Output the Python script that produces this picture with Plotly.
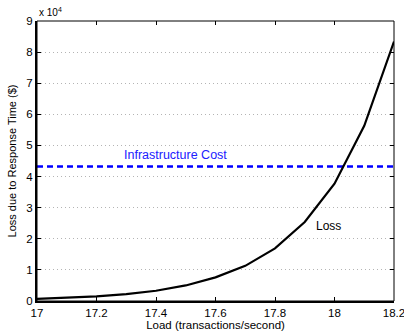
import plotly.graph_objects as go

load = [17.0, 17.1, 17.2, 17.3, 17.4, 17.5, 17.6, 17.7, 17.8, 17.9, 18.0, 18.1, 18.2]
loss = [700, 1000, 1500, 2200, 3300, 5000, 7600, 11300, 16900, 25400, 37700, 56300, 83400]
infra_cost = 43200
x_ticks = [17, 17.2, 17.4, 17.6, 17.8, 18, 18.2]
x_ticklabels = ["17", "17.2", "17.4", "17.6", "17.8", "18", "18.2"]
y_ticks = [0, 10000, 20000, 30000, 40000, 50000, 60000, 70000, 80000, 90000]
y_ticklabels = ["0", "1", "2", "3", "4", "5", "6", "7", "8", "9"]

font = "Liberation Sans, Arial, Helvetica, sans-serif"
XR = [17, 18.2]
YR = [0, 90000]

fig = go.Figure()
fig.add_trace(go.Scatter(x=[load[0], load[-1]], y=[infra_cost, infra_cost], mode="lines",
                         line=dict(color="#0000ff", width=2.5, dash="6px,4px"),
                         showlegend=False, hoverinfo="skip"))
fig.add_trace(go.Scatter(x=load, y=loss, mode="lines",
                         line=dict(color="black", width=2.2),
                         showlegend=False))
fig.add_trace(go.Scatter(x=XR, y=YR, xaxis="x2", yaxis="y2", mode="markers",
                         marker=dict(opacity=0), showlegend=False, hoverinfo="skip"))

fig.add_annotation(x=17.465, y=infra_cost, yshift=12, text="Infrastructure Cost", showarrow=False,
                   font=dict(family=font, size=12.5, color="#2020ff"), xanchor="center", yanchor="middle")
fig.add_annotation(x=17.98, y=24000, text="Loss", showarrow=False,
                   font=dict(family=font, size=12, color="black"), xanchor="center", yanchor="middle")
fig.add_annotation(xref="paper", yref="paper", x=0, y=1, yshift=1, xanchor="left", yanchor="bottom",
                   text="x 10<sup>4</sup>", showarrow=False,
                   font=dict(family=font, size=10, color="black"))

# thin box
fig.add_shape(type="rect", xref="paper", yref="paper", x0=0, y0=0, x1=1, y1=1,
              line=dict(color="black", width=1), layer="above")

fig.update_layout(
    width=404, height=336,
    margin=dict(l=37, r=10, t=21, b=35, autoexpand=False),
    paper_bgcolor="white", plot_bgcolor="white",
    font=dict(family=font, size=11, color="black"),
    xaxis=dict(range=XR, autorange=False, tickvals=x_ticks, ticktext=x_ticklabels,
               ticks="inside", ticklen=4, tickcolor="black", showgrid=False,
               showline=True, linecolor="black", linewidth=2, mirror=False, zeroline=False,
               ticklabeloverflow="allow", automargin=False,
               title=dict(text="Load (transactions/second)", font=dict(size=11.5), standoff=0),
               tickfont=dict(size=11.5)),
    yaxis=dict(range=YR, autorange=False, tickvals=y_ticks, ticktext=y_ticklabels,
               ticks="inside", ticklen=4, tickcolor="black",
               showgrid=True, gridcolor="#b4b4b4", griddash="1px,3px", gridwidth=1,
               showline=True, linecolor="black", linewidth=2, mirror=False, zeroline=False,
               ticklabeloverflow="allow", automargin=False,
               title=dict(text="Loss due to Response Time ($)", font=dict(size=11), standoff=7),
               tickfont=dict(size=11.5)),
    xaxis2=dict(overlaying="x", side="top", anchor="y", range=XR, autorange=False, tickvals=x_ticks,
                ticks="inside", ticklen=4, tickcolor="black", showticklabels=False,
                showgrid=False, zeroline=False, showline=False, automargin=False),
    yaxis2=dict(overlaying="y", side="right", anchor="x", range=YR, autorange=False, tickvals=y_ticks,
                ticks="inside", ticklen=4, tickcolor="black", showticklabels=False,
                showgrid=False, zeroline=False, showline=False, automargin=False),
)

fig.write_html("out.html", config={"displayModeBar": False},
               post_script="document.body.style.margin='0';document.body.style.padding='0';")
